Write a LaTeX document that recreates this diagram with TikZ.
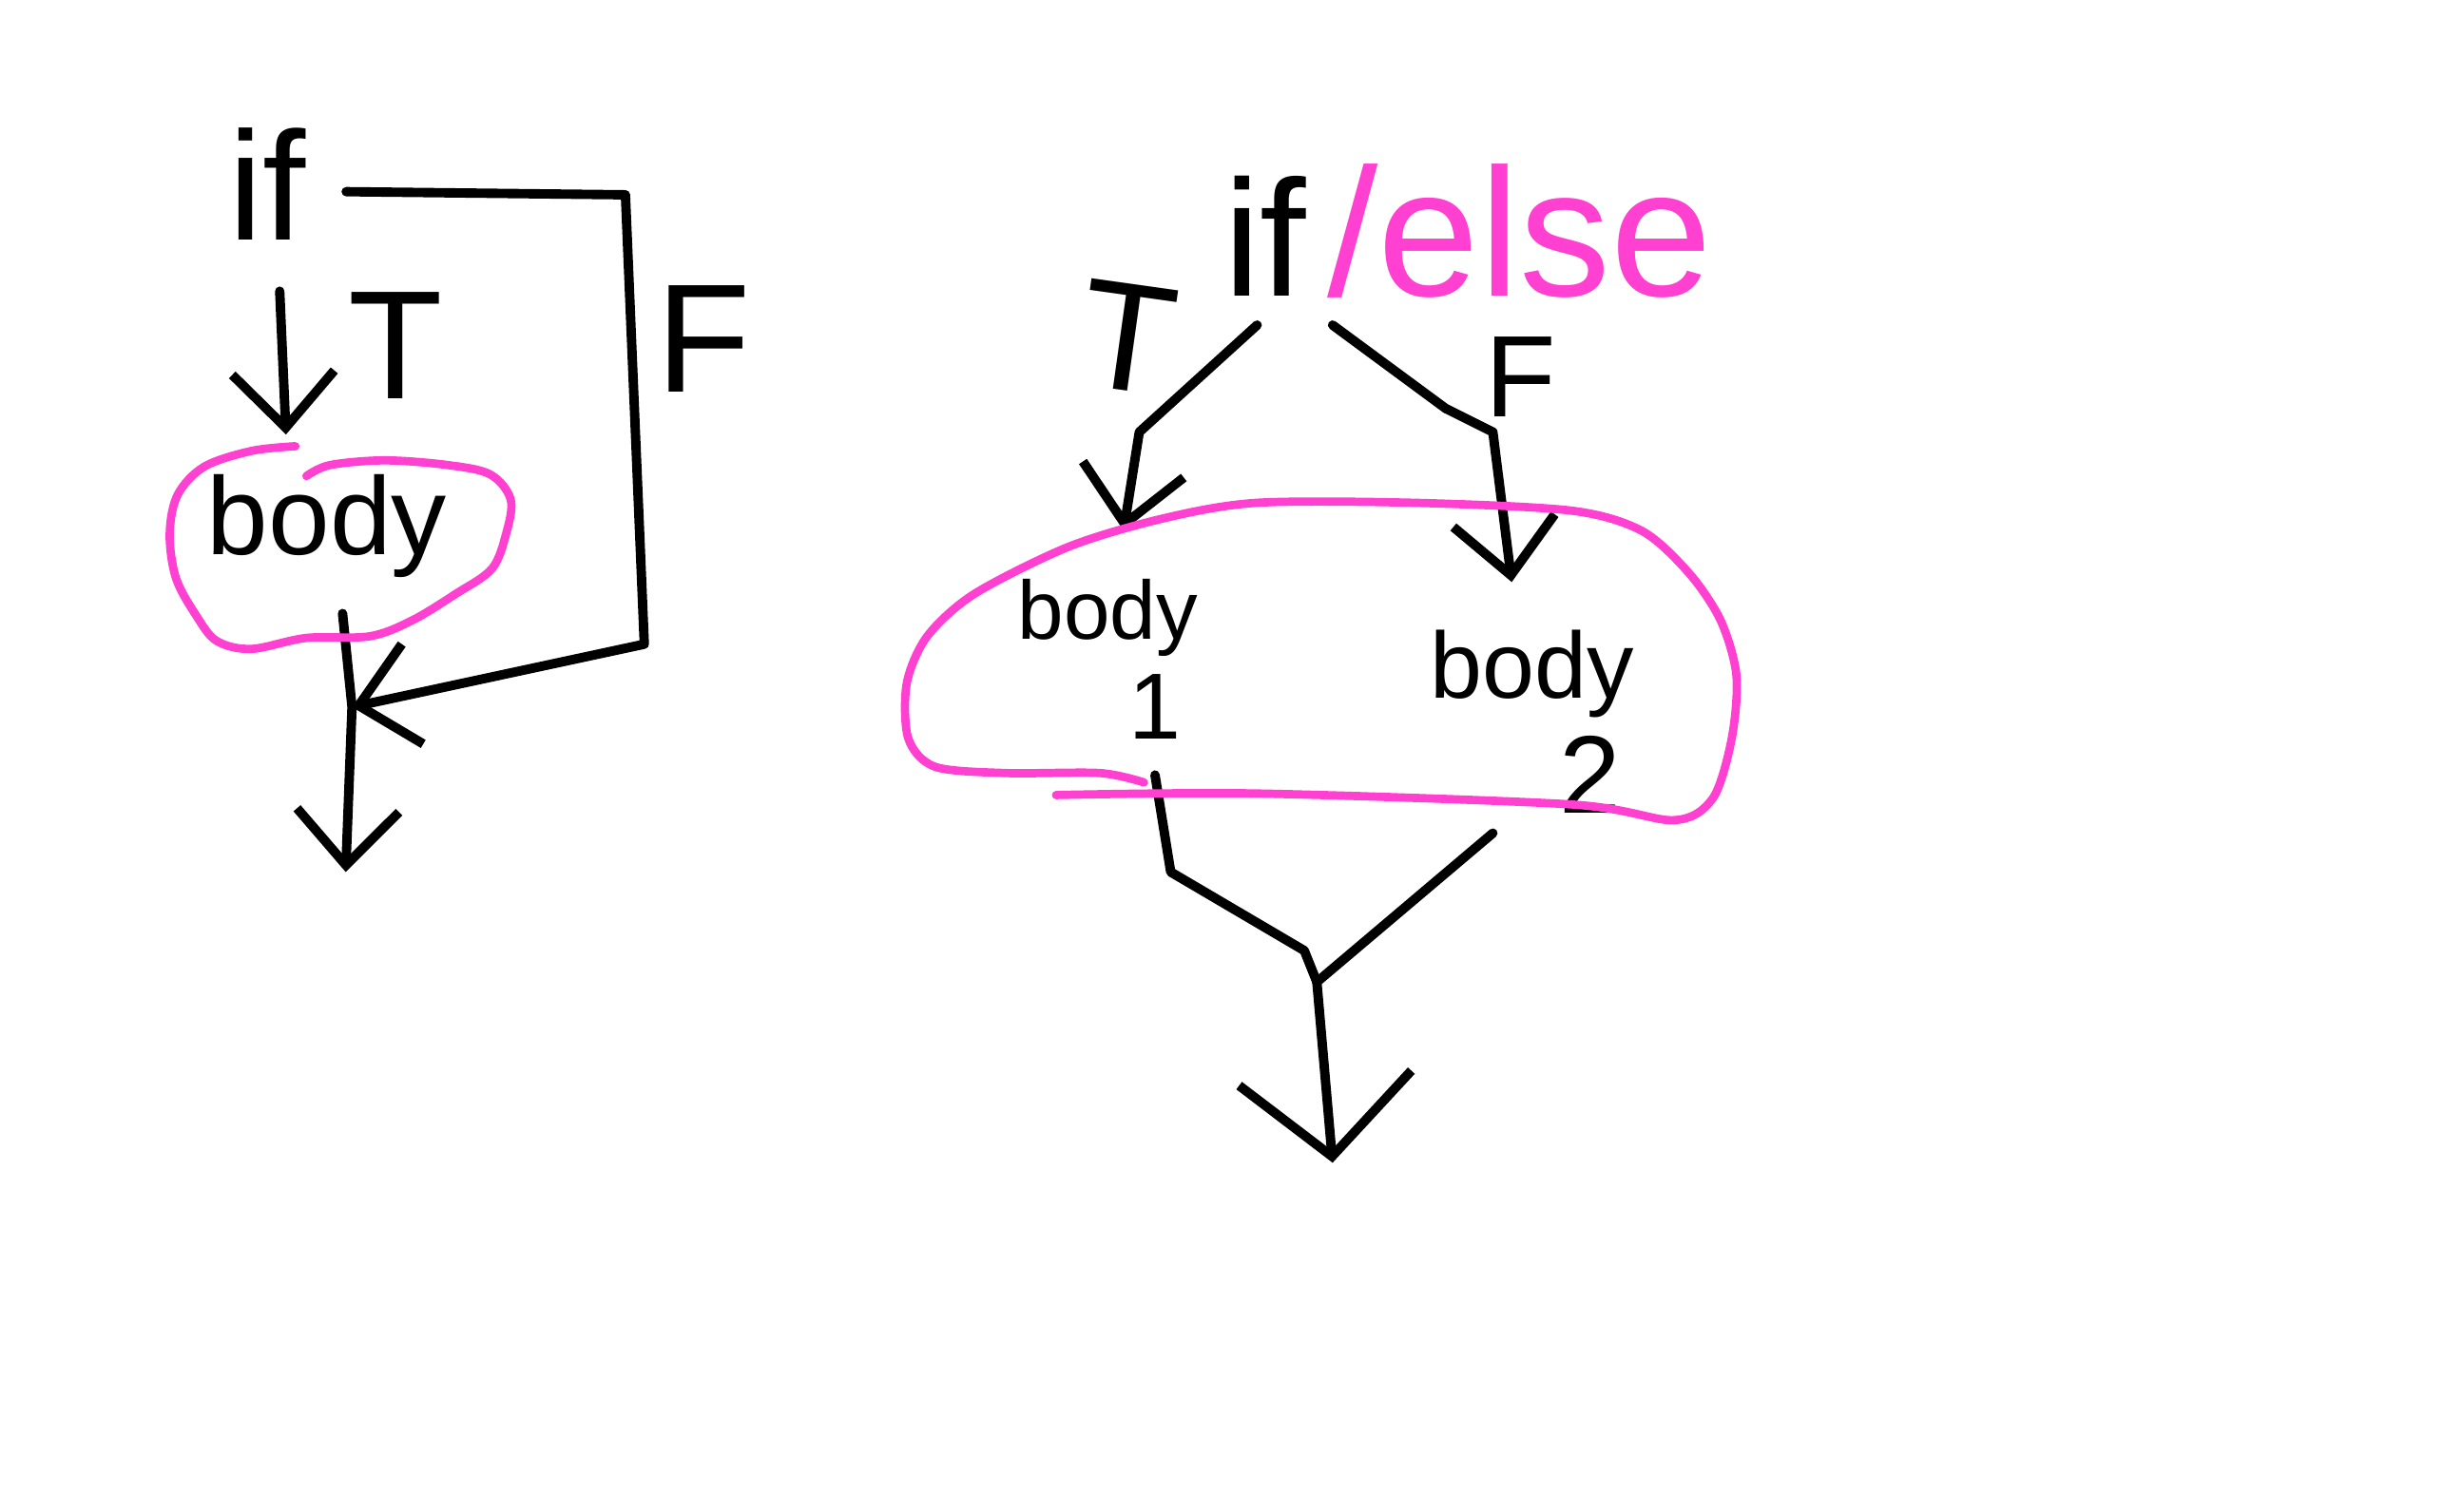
\documentclass[tikz,border=0pt]{standalone}
\usepackage{fontspec}
\setmainfont{Liberation Sans}
\usetikzlibrary{arrows.meta}
\definecolor{pinkC}{RGB}{255,64,208}
\tikzset{
  ink/.style={line width=1.7pt, line cap=round, line join=round, black},
  pinkline/.style={line width=1.5pt, line cap=round, line join=round, pinkC},
  arr/.style={ink, -{Straight Barb[length=3.5mm,width=6.5mm,line width=1.7pt]}},
  bigarr/.style={ink, -{Straight Barb[length=5mm,width=11mm,line width=1.7pt]}},
  lbl/.style={inner sep=0pt, font=\fontsize{28}{30}\selectfont},
  txt/.style={inner sep=0pt},
}
\begin{document}
\begin{tikzpicture}
\useasboundingbox (0,0) rectangle (15.68,9.53);
% ---------------- left: if ----------------
\node[txt, font=\fontsize{28}{30}\selectfont] (ifA) at (1.70,8.36) {if};
\node[txt, font=\fontsize{20}{22}\selectfont] (bodyA) at (2.08,6.18) {body};
\node[lbl] (TA) at (2.52,7.33) {T};
\node[lbl] (FA) at (4.48,7.37) {F};
\coordinate (cA1) at (3.98,8.29);
\coordinate (cA2) at (4.10,5.43);
\coordinate (JA) at (2.24,5.03);
\coordinate (endA) at (2.20,3.98);
\draw[arr] ([xshift=0.08cm,yshift=-0.32cm]ifA.south) -- ([yshift=0.25cm]bodyA.north -| 1.82,0);
\draw[arr] ([xshift=0.25cm,yshift=-0.05cm]ifA.east) -- (cA1) -- (cA2) -- (JA);
\draw[arr] ([xshift=0.10cm,yshift=-0.22cm]bodyA.south) -- (JA) -- (endA);
\draw[pinkline] plot[smooth, tension=0.55] coordinates {
 (1.88,6.69) (1.60,6.66) (1.30,6.56) (1.13,6.38) (1.08,6.13) (1.12,5.85)
 (1.25,5.61) (1.38,5.45) (1.60,5.40) (1.95,5.47) (2.35,5.48) (2.62,5.58)
 (2.90,5.75) (3.13,5.91) (3.22,6.13) (3.25,6.35) (3.12,6.51) (2.85,6.57)
 (2.45,6.60) (2.10,6.57) (1.95,6.50)};
% ---------------- right: if/else ----------------
\node[txt, font=\fontsize{30}{32}\selectfont] (ifB) at (8.05,8.03) {if};
\node[txt, font=\fontsize{33}{35}\selectfont, text=pinkC, text depth=0pt, anchor=base west] (elseB) at ([xshift=0.12cm]ifB.base east) {/else};
\node[lbl, rotate=-8] (TB) at (7.18,7.38) {T};
\node[txt, font=\fontsize{21}{23}\selectfont] (FB) at (9.68,7.13) {F};
\node[txt, font=\fontsize{15}{17}\selectfont] (body1) at (7.05,5.60) {body};
\node[txt, font=\fontsize{17}{19}\selectfont] (one1) at (7.35,5.03) {1};
\node[txt, font=\fontsize{17}{19}\selectfont] (body2) at (9.75,5.24) {body};
\node[txt, font=\fontsize{20}{22}\selectfont] (two2) at (10.12,4.60) {2};
\coordinate (L1) at (7.25,6.78);
\coordinate (R0) at (9.20,6.93);
\coordinate (R1) at (9.50,6.78);
\coordinate (D1) at (7.45,3.98);
\coordinate (D2) at (8.30,3.48);
\coordinate (M) at (8.38,3.28);
\coordinate (endB) at (8.48,2.13);
\draw[arr] ([xshift=-0.05cm,yshift=-0.18cm]ifB.south) -- (L1) -- ([xshift=0.10cm,yshift=0.30cm]body1.north);
\draw[arr] ([xshift=0.43cm,yshift=-0.18cm]ifB.south) -- (R0) -- (R1) -- ([xshift=-0.13cm,yshift=0.30cm]body2.north);
\draw[ink] ([yshift=-0.22cm]one1.south) -- (D1) -- (D2) -- (M);
\draw[ink] ([xshift=-0.62cm,yshift=-0.12cm]two2.south) -- (M);
\draw[bigarr] (M) -- (endB);
\draw[pinkline] plot[smooth, tension=0.5] coordinates {
 (6.72,4.47) (8.00,4.48) (10.00,4.41) (10.65,4.31) (10.90,4.45) (11.02,4.83)
 (11.05,5.23) (10.95,5.58) (10.75,5.88) (10.45,6.15) (10.00,6.28) (9.00,6.33)
 (8.00,6.33) (7.40,6.23) (6.80,6.05) (6.20,5.75) (5.90,5.48) (5.77,5.18)
 (5.78,4.83) (5.95,4.65) (6.40,4.61) (7.00,4.61) (7.28,4.55)};
\end{tikzpicture}
\end{document}
